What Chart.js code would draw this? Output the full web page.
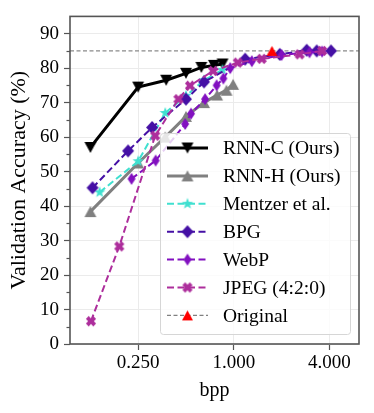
<!DOCTYPE html>
<html>
<head>
<meta charset="utf-8">
<script src="https://cdn.jsdelivr.net/npm/chart.js@4.4.1/dist/chart.umd.min.js"></script>
<style>
  html, body { margin: 0; padding: 0; background: #fff; }
</style>
</head>
<body>
<canvas id="chart" width="374" height="413"></canvas>
<script>
// Values: bpp (x, log2 axis) vs validation accuracy in %
var rnnCBpp = [0.125, 0.25, 0.375, 0.5, 0.625, 0.75, 0.85];
var rnnCAcc = [57, 74.5, 76.5, 78.5, 80.2, 80.8, 81.2];

var rnnHBpp = [0.125, 0.25, 0.37, 0.5, 0.65, 0.785, 0.9, 0.99];
var rnnHAcc = [38.4, 52.5, 60, 66, 70, 72.2, 73.6, 75.3];

var mentzerBpp = [0.143, 0.25, 0.37, 0.5, 0.65, 0.85];
var mentzerAcc = [44, 53, 67, 72, 76.5, 79.5];

var bpgBpp = [0.129, 0.216, 0.306, 0.5, 0.65, 1.18, 1.95, 2.88, 3.33, 4.1];
var bpgAcc = [45.3, 56, 62.8, 71, 76, 82.6, 84, 85.2, 85, 85];

var webpBpp = [0.227, 0.322, 0.494, 0.538, 0.66, 0.78, 0.86, 0.95, 1.3, 2.0, 3.0, 3.6];
var webpAcc = [47.9, 53.2, 63.8, 66.8, 71, 75, 77, 80, 82, 83.8, 84.6, 84.8];

var jpegBpp = [0.126, 0.19, 0.32, 0.448, 0.53, 0.74, 1.06, 1.5, 2.6, 3.6];
var jpegAcc = [6.6, 28.3, 60.4, 71, 74.9, 79.2, 81.6, 82.7, 84, 85];

var origBpp = [1.74];
var origAcc = [85];

var xTicks = [0.25, 1, 4];
var yTicks = [0, 10, 20, 30, 40, 50, 60, 70, 80, 90];
var xMin = 0.093, xMax = 6.15;
var yMin = 0, yMax = 95;

var serif = "'Liberation Serif', 'DejaVu Serif', serif";

// Small canvases used as point styles (matplotlib-like filled markers)
var makeMarker = function (shape, w, h, color) {
  var c = document.createElement('canvas');
  c.width = w + 4;
  c.height = h + 4;
  var g = c.getContext('2d');
  g.translate(c.width / 2, c.height / 2);
  g.fillStyle = color;
  g.beginPath();
  if (shape === 'triUp') {
    g.moveTo(0, -h / 2); g.lineTo(w / 2, h / 2); g.lineTo(-w / 2, h / 2);
  } else if (shape === 'triDown') {
    g.moveTo(0, h / 2); g.lineTo(w / 2, -h / 2); g.lineTo(-w / 2, -h / 2);
  } else if (shape === 'diamond') {
    g.moveTo(0, -h / 2); g.lineTo(w / 2, 0); g.lineTo(0, h / 2); g.lineTo(-w / 2, 0);
  } else if (shape === 'star') {
    for (var i = 0; i < 10; i++) {
      var r = i % 2 ? w * 0.2 : w / 2;
      var a = -Math.PI / 2 + i * Math.PI / 5;
      g.lineTo(Math.cos(a) * r, Math.sin(a) * r);
    }
  } else if (shape === 'x') {
    var L = w / 2 * 1.05, t = w * 0.2;
    g.rotate(Math.PI / 4);
    var pts = [[t, -L], [t, -t], [L, -t], [L, t], [t, t], [t, L], [-t, L], [-t, t], [-L, t], [-L, -t], [-t, -t], [-t, -L]];
    pts.forEach(function (p) { g.lineTo(p[0], p[1]); });
  }
  g.closePath();
  g.fill();
  return c;
};

var toPoints = function (xs, ys) {
  return xs.map(function (x, i) { return { x: x, y: ys[i] }; });
};

var series = [
  { label: 'RNN-C (Ours)', xs: rnnCBpp, ys: rnnCAcc, color: '#000000', width: 3, dash: [], marker: makeMarker('triDown', 12, 11, '#000000') },
  { label: 'RNN-H (Ours)', xs: rnnHBpp, ys: rnnHAcc, color: '#808080', width: 3, dash: [], marker: makeMarker('triUp', 12, 11, '#808080') },
  { label: 'Mentzer et al.', xs: mentzerBpp, ys: mentzerAcc, color: '#40e0d0', width: 2, dash: [7, 3.5], marker: makeMarker('star', 12, 12, '#40e0d0') },
  { label: 'BPG', xs: bpgBpp, ys: bpgAcc, color: '#4510a5', width: 2, dash: [7, 3.5], marker: makeMarker('diamond', 12, 13, '#4510a5') },
  { label: 'WebP', xs: webpBpp, ys: webpAcc, color: '#8210c0', width: 2, dash: [7, 3.5], marker: makeMarker('diamond', 8, 12, '#8210c0') },
  { label: 'JPEG (4:2:0)', xs: jpegBpp, ys: jpegAcc, color: '#ad2e9c', width: 2, dash: [7, 3.5], marker: makeMarker('x', 10, 10, '#ad2e9c') },
  { label: 'Original', xs: origBpp, ys: origAcc, color: '#808080', width: 1.3, dash: [4, 2.5], marker: makeMarker('triUp', 11, 10, '#ff0000') }
];

var datasets = series.map(function (s, i) {
  return {
    label: s.label,
    data: toPoints(s.xs, s.ys),
    borderColor: s.color,
    backgroundColor: s.color,
    borderWidth: s.width,
    borderDash: s.dash,
    pointStyle: s.marker,
    pointRadius: 6,
    showLine: s.label !== 'Original',
    order: series.length - i
  };
});

// dashed reference line of the original images across the whole axis
datasets.push({
  label: 'baseline',
  data: [{ x: xMin, y: origAcc[0] }, { x: xMax, y: origAcc[0] }],
  borderColor: '#8a8a8a',
  borderWidth: 1.3,
  borderDash: [4, 2.5],
  pointRadius: 0,
  showLine: true,
  order: 20
});

// Frame, minor y ticks and the boxed legend inside the plot
var framePlugin = {
  id: 'frame',
  afterDraw: function (chart) {
    var ctx = chart.ctx;
    var a = chart.chartArea;
    var y = chart.scales.y;
    ctx.save();
    ctx.strokeStyle = '#555';
    ctx.lineWidth = 1.2;
    for (var v = 5; v < yMax; v += 10) {
      var py = Math.round(y.getPixelForValue(v)) + 0.5;
      ctx.beginPath();
      ctx.moveTo(a.left - 3.5, py);
      ctx.lineTo(a.left, py);
      ctx.stroke();
    }
    ctx.lineWidth = 1.6;
    ctx.strokeRect(a.left, a.top, a.right - a.left, a.bottom - a.top);

    // legend box
    var bx = 160, by = 133, bw = 190, bh = 201;
    ctx.fillStyle = 'rgba(255,255,255,0.8)';
    ctx.strokeStyle = '#d6d6d6';
    ctx.lineWidth = 1;
    ctx.beginPath();
    ctx.roundRect(bx + 0.5, by + 0.5, bw, bh, 3);
    ctx.fill();
    ctx.stroke();

    ctx.font = '19.5px ' + serif;
    ctx.textBaseline = 'middle';
    ctx.textAlign = 'left';
    series.forEach(function (s, i) {
      var cy = 148 + i * 27.9;
      ctx.save();
      ctx.strokeStyle = s.color;
      ctx.lineWidth = s.width;
      ctx.setLineDash(s.dash);
      ctx.beginPath();
      ctx.moveTo(167, cy);
      ctx.lineTo(208, cy);
      ctx.stroke();
      ctx.restore();
      Chart.helpers.drawPoint(ctx, { pointStyle: s.marker, radius: 6, rotation: 0, borderWidth: 0 }, 187.5, cy);
      ctx.fillStyle = '#000';
      ctx.fillText(s.label, 223, cy + 1);
    });
    ctx.restore();
  }
};

var ctx = document.getElementById('chart').getContext('2d');
new Chart(ctx, {
  type: 'scatter',
  data: { datasets: datasets },
  options: {
    responsive: false,
    animation: false,
    layout: { padding: { top: 15, right: 15, left: 0, bottom: 0 } },
    plugins: { legend: { display: false }, tooltip: { enabled: false } },
    scales: {
      x: {
        type: 'logarithmic',
        min: xMin,
        max: xMax,
        afterBuildTicks: function (scale) {
          scale.ticks = xTicks.map(function (v) { return { value: v }; });
        },
        afterFit: function (scale) { scale.height = 69; },
        border: { display: false },
        grid: { color: '#ebebeb', lineWidth: 1, tickColor: '#555', tickLength: 6, tickWidth: 1.2 },
        ticks: {
          color: '#000',
          font: { family: serif, size: 19 },
          padding: 2,
          autoSkip: false,
          maxRotation: 0,
          callback: function (v) { return Number(v).toFixed(3); }
        },
        title: {
          display: true,
          text: 'bpp',
          color: '#000',
          font: { family: serif, size: 20 },
          padding: { top: 10, bottom: 10 }
        }
      },
      y: {
        min: yMin,
        max: yMax,
        afterBuildTicks: function (scale) {
          scale.ticks = yTicks.map(function (v) { return { value: v }; });
        },
        afterFit: function (scale) { scale.width = 70; },
        border: { display: false },
        grid: { color: '#ebebeb', lineWidth: 1, tickColor: '#555', tickLength: 6, tickWidth: 1.2 },
        ticks: {
          color: '#000',
          font: { family: serif, size: 19 },
          padding: 5
        },
        title: {
          display: true,
          text: 'Validation Accuracy (%)',
          color: '#000',
          font: { family: serif, size: 22 },
          padding: { top: 6, bottom: 0 }
        }
      }
    }
  },
  plugins: [framePlugin]
});
</script>
</body>
</html>
